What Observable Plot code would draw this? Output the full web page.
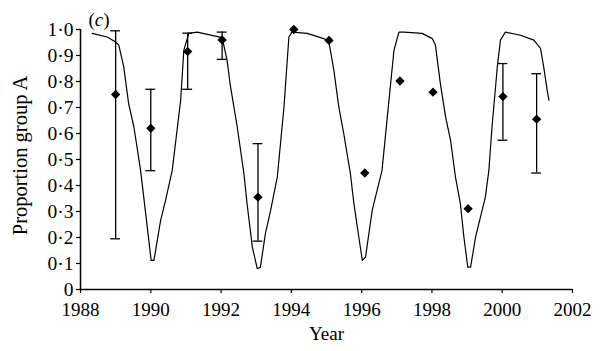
<!DOCTYPE html>
<html>
<head>
<meta charset="utf-8">
<script src="https://cdn.jsdelivr.net/npm/d3@7"></script>
<script src="https://cdn.jsdelivr.net/npm/@observablehq/plot@0.6"></script>
<style>
  html, body { margin: 0; padding: 0; background: #fff; }
  #chart { width: 601px; height: 351px; }
  #chart svg, #chart svg text { font-family: "Liberation Serif", "Times New Roman", serif !important; }
</style>
</head>
<body>
<div id="chart"></div>
<script>
// Observed proportions (diamonds)
const pointYears  = [1989.0, 1990.0, 1991.05, 1992.03, 1993.05, 1994.07, 1995.07, 1996.09, 1997.09, 1998.03, 1999.03, 2000.02, 2000.98];
const pointValues = [0.75, 0.62, 0.915, 0.96, 0.355, 1.0, 0.958, 0.448, 0.802, 0.759, 0.311, 0.742, 0.655];

// Error bars
const errYears = [1989.0, 1990.0, 1991.05, 1992.03, 1993.05, 2000.02, 2000.98];
const errLo    = [0.195, 0.457, 0.77, 0.885, 0.186, 0.574, 0.448];
const errHi    = [0.995, 0.77, 0.986, 0.99, 0.561, 0.869, 0.83];

// Model curve
const modelYears = [
  1988.33, 1988.76, 1989.0, 1989.09, 1989.23, 1989.37, 1989.52, 1989.71, 1989.9, 1990.01, 1990.09,
  1990.28, 1990.42, 1990.61, 1990.85, 1990.94, 1991.08, 1991.32, 1992.03, 1992.17, 1992.27, 1992.46,
  1992.65, 1992.74, 1992.89, 1993.03, 1993.12, 1993.26, 1993.41, 1993.6, 1993.79, 1993.93, 1994.02,
  1994.45, 1994.92, 1995.07, 1995.21, 1995.35, 1995.49, 1995.68, 1995.78, 1995.92, 1996.02, 1996.11,
  1996.3, 1996.44, 1996.58, 1996.73, 1996.92, 1997.06, 1997.2, 1997.72, 1998.01, 1998.1, 1998.24,
  1998.39, 1998.53, 1998.67, 1998.81, 1998.91, 1999.02, 1999.1, 1999.24, 1999.38, 1999.52, 1999.62,
  1999.71, 1999.86, 1999.95, 2000.09, 2000.52, 2000.9, 2001.09, 2001.18, 2001.28, 2001.33
];
const modelValues = [
  0.985, 0.971, 0.952, 0.94, 0.856, 0.715, 0.625, 0.458, 0.24, 0.112, 0.112,
  0.266, 0.343, 0.458, 0.728, 0.92, 0.985, 0.99, 0.969, 0.882, 0.779, 0.625,
  0.446, 0.33, 0.163, 0.08, 0.086, 0.214, 0.304, 0.432, 0.702, 0.971, 0.99,
  0.985, 0.965, 0.952, 0.843, 0.702, 0.6, 0.446, 0.33, 0.201, 0.112, 0.124,
  0.304, 0.381, 0.458, 0.663, 0.92, 0.99, 0.99, 0.985, 0.965, 0.94, 0.792,
  0.663, 0.574, 0.432, 0.33, 0.201, 0.086, 0.086, 0.201, 0.278, 0.355, 0.458,
  0.625, 0.856, 0.959, 0.99, 0.978, 0.959, 0.927, 0.856, 0.766, 0.728
];

// Axis ticks
const xTicks = [1988, 1990, 1992, 1994, 1996, 1998, 2000, 2002];
const yTicks = [0, 0.1, 0.2, 0.3, 0.4, 0.5, 0.6, 0.7, 0.8, 0.9, 1.0];
const yTickLabels = ["0", "0·1", "0·2", "0·3", "0·4", "0·5", "0·6", "0·7", "0·8", "0·9", "1·0"];

const points = pointYears.map((x, i) => ({year: x, value: pointValues[i]}));
const errs = errYears.map((x, i) => ({year: x, lo: errLo[i], hi: errHi[i]}));
const model = modelYears.map((x, i) => ({year: x, value: modelValues[i]}));

const capHalf = 0.14;
const FONT = "Liberation Serif";
const FS = 19;

const chart = Plot.plot({
  width: 601,
  height: 351,
  marginLeft: 80,
  marginRight: 29,
  marginTop: 29,
  marginBottom: 62,
  style: {fontFamily: FONT, fontSize: FS + "px", color: "#000", background: "#fff"},
  x: {domain: [1988, 2002]},
  y: {domain: [0, 1]},
  marks: [
    Plot.axisY({ticks: yTicks, tickFormat: d => yTickLabels[yTicks.indexOf(d)], tickSize: 4, tickPadding: 3, label: null, strokeWidth: 1.2, fontSize: 19.5, fontFamily: FONT, fontVariant: "normal"}),
    Plot.axisX({ticks: xTicks, tickFormat: d => String(d), tickSize: 4, tickPadding: 9, label: null, strokeWidth: 1.2, fontSize: FS, fontFamily: FONT, fontVariant: "normal"}),
    Plot.ruleX([1988], {y1: 0, y2: 1, stroke: "#000", strokeWidth: 1.5}),
    Plot.ruleY([0], {x1: 1988, x2: 2002, stroke: "#000", strokeWidth: 1.5}),
    Plot.line(model, {x: "year", y: "value", stroke: "#000", strokeWidth: 1.2, curve: "linear"}),
    Plot.ruleX(errs, {x: "year", y1: "lo", y2: "hi", stroke: "#000", strokeWidth: 1.3}),
    Plot.ruleY(errs, {y: "hi", x1: d => d.year - capHalf, x2: d => d.year + capHalf, stroke: "#000", strokeWidth: 1.3}),
    Plot.ruleY(errs, {y: "lo", x1: d => d.year - capHalf, x2: d => d.year + capHalf, stroke: "#000", strokeWidth: 1.3}),
    Plot.dot(points, {x: "year", y: "value", symbol: "diamond2", r: 4.2, fill: "#000", stroke: "none"}),
    Plot.text(["(c)"], {frameAnchor: "top-left", dx: 8, dy: -17, textAnchor: "start", fill: "#000", fontSize: FS, fontFamily: FONT, className: "panel-label"}),
    Plot.text(["Year"], {frameAnchor: "bottom", dy: 50, fill: "#000", fontSize: FS, fontFamily: FONT}),
    Plot.text(["Proportion group A"], {frameAnchor: "left", textAnchor: "middle", dx: -60, dy: -4, rotate: -90, fill: "#000", fontSize: 20.5, fontFamily: FONT})
  ]
});
document.getElementById("chart").appendChild(chart);
// italic "c" inside parentheses
const pl = chart.querySelector("g.panel-label text");
if (pl) { pl.innerHTML = '(<tspan font-style="italic">c</tspan>)'; }
</script>
</body>
</html>
